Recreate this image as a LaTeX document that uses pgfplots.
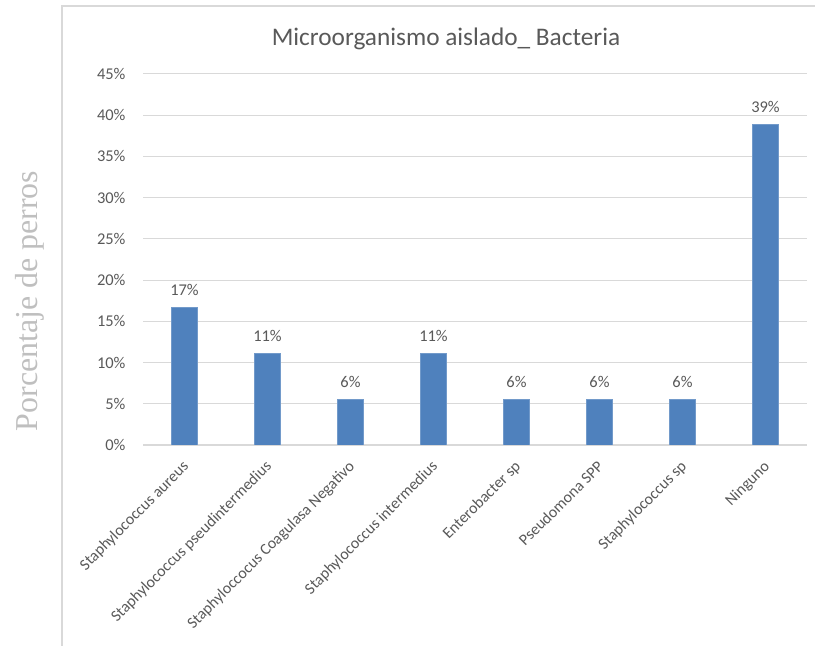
\documentclass[border=0pt]{standalone}
\usepackage{pgfplots}
\pgfplotsset{compat=1.18}
\usepackage{fontspec}
\setmainfont{Carlito}
\newfontfamily\timesfont{Liberation Serif}
\definecolor{barblue}{HTML}{4F81BD}
\definecolor{gridgray}{HTML}{D9D9D9}
\definecolor{textgray}{HTML}{595959}
\definecolor{labelgray}{HTML}{BFBFBF}
\begin{document}
\begin{tikzpicture}[x=1bp,y=1bp]
\useasboundingbox (0,0) rectangle (815,646);
\draw[gridgray, line width=1.2bp] (62,0) -- (62,640) -- (815,640);
\node[rotate=90, font=\timesfont\fontsize{32}{36}\selectfont, text=labelgray] at (30,345) {Porcentaje de perros};
\node[font=\fontsize{25.4}{30}\selectfont, text=textgray] at (446,607) {Microorganismo aislado\_ Bacteria};
\begin{axis}[
  at={(143bp,201bp)}, anchor=south west,
  scale only axis, width=664bp, height=371bp,
  xmin=-0.5, xmax=7.5, ymin=0, ymax=45,
  ytick={0,5,...,45},
  /pgf/number format/assume math mode=true,
  yticklabel={\pgfmathprintnumber{\tick}\%},
  ymajorgrids, grid style={gridgray, line width=1bp},
  axis y line*=left, y axis line style={draw=none},
  axis x line*=bottom, x axis line style={gridgray, line width=1.2bp, -},
  major tick length=0pt,
  tick label style={font=\fontsize{16.5}{19}\selectfont, text=textgray},
  yticklabel style={xshift=-14bp},
  xtick=data,
  xticklabels={Staphylococcus aureus, Staphylococcus pseudintermedius, Staphyloccocus Coagulasa Negativo, Staphylococcus intermedius, Enterobacter sp, Pseudomona SPP, Staphylococcus sp, Ninguno},
  xticklabel style={font=\fontsize{16}{19}\selectfont, xshift=-3bp, yshift=-13bp, rotate=45, anchor=north east, inner sep=1bp},
  ybar, bar width=26bp,
  point meta=explicit symbolic,
  nodes near coords,
  every node near coord/.append style={font=\fontsize{16.5}{19}\selectfont, text=textgray, anchor=south, yshift=8bp},
]
\addplot[fill=barblue, draw=barblue!80!white] table[x=x, y=y, meta=lab] {
x y lab
0 16.67 17\%
1 11.11 11\%
2 5.56 6\%
3 11.11 11\%
4 5.56 6\%
5 5.56 6\%
6 5.56 6\%
7 38.89 39\%
};
\end{axis}
\end{tikzpicture}
\end{document}
